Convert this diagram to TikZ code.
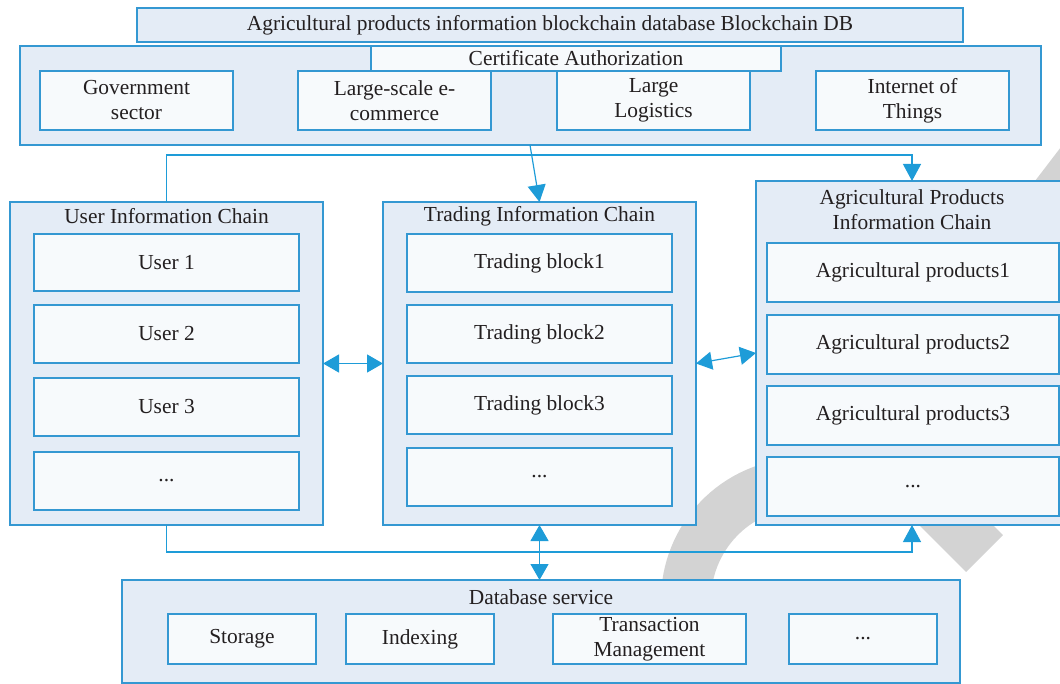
\documentclass[tikz,border=0pt]{standalone}
\usepackage{fontspec}
\setmainfont{Liberation Serif}
\usetikzlibrary{arrows.meta,calc}
\definecolor{bline}{RGB}{52,152,210}
\definecolor{outfill}{RGB}{228,236,246}
\definecolor{infill}{RGB}{247,250,252}
\definecolor{arrc}{RGB}{30,156,216}
\definecolor{txt}{RGB}{35,31,32}
\definecolor{wmgray}{RGB}{211,211,211}
\newcommand\lblfont{\fontsize{10.7}{12.5}\selectfont}
\newcommand\bx[7]{%
  \pgfmathsetmacro\bxw{(#5-#3)*0.5}%
  \pgfmathsetmacro\bxh{(#6-#4)*0.5}%
  \node[#2,minimum width=\bxw pt,minimum height=\bxh pt] (#1) at ({(#3+#5)/2},{(#4+#6)/2}) {#7};}
\begin{document}
\begin{tikzpicture}[x=0.5pt,y=-0.5pt,
  outer/.style={draw=bline,fill=outfill,line width=0.7pt,inner sep=0pt,outer sep=0pt,text=txt,font=\lblfont},
  inner/.style={draw=bline,fill=infill,line width=0.7pt,inner sep=0pt,outer sep=0pt,text=txt,align=center,font=\lblfont},
  lab/.style={text=txt,align=center,font=\lblfont,inner sep=0pt},
  conn/.style={draw=arrc,line width=0.6pt},
  arr/.style={conn,-{Triangle[width=9pt,length=8.5pt]}},
  darr/.style={conn,{Triangle[width=9pt,length=8pt]}-{Triangle[width=9pt,length=8pt]}},
  wm/.style={draw=wmgray}]
\useasboundingbox (0,0) rectangle (1060,684);
% watermark
\draw[wm,line width=25pt] (803,600) ++(195:58.5pt) arc[start angle=195,end angle=70,radius=58.5pt];
\draw[wm,line width=26pt] (880,449) -- (984.5,553.5);
\fill[wmgray] (1035,181) -- (1061,147) -- (1061,181) -- cycle;
% top
\bx{title}{outer}{137}{8}{963}{42}{Agricultural products information blockchain database Blockchain DB}
\bx{cert}{outer}{20}{46}{1041}{145}{}
\bx{certlab}{inner}{371}{46}{781}{71}{Certificate Authorization}
\bx{gov}{inner}{40}{71}{233}{130}{Government\\sector}
\bx{ecom}{inner}{298}{71}{491}{130}{Large-scale e-\\commerce}
\bx{logi}{inner}{557}{71}{750}{130}{Large\\Logistics}
\bx{iot}{inner}{816}{71}{1009}{130}{Internet of\\Things}
% user chain
\bx{uic}{outer}{10}{202}{323}{525}{}
\node[lab] (uict) at (166.5,216) {User Information Chain};
\bx{u1}{inner}{34}{234}{299}{291}{User 1}
\bx{u2}{inner}{34}{305}{299}{363}{User 2}
\bx{u3}{inner}{34}{378}{299}{436}{User 3}
\bx{u4}{inner}{34}{452}{299}{510}{...}
% trading chain
\bx{tic}{outer}{383}{202}{696}{525}{}
\node[lab] (tict) at (539.5,216) {Trading Information Chain};
\bx{t1}{inner}{407}{234}{672}{292}{Trading block1}
\bx{t2}{inner}{407}{305}{672}{363}{Trading block2}
\bx{t3}{inner}{407}{376}{672}{434}{Trading block3}
\bx{t4}{inner}{407}{448}{672}{506}{...}
% agricultural chain
\bx{apic}{outer}{756}{181}{1070}{525}{}
\node[lab] (apict) at (912,210) {Agricultural Products\\Information Chain};
\bx{a1}{inner}{767}{243}{1059}{302}{Agricultural products1}
\bx{a2}{inner}{767}{315}{1059}{374}{Agricultural products2}
\bx{a3}{inner}{767}{386}{1059}{445}{Agricultural products3}
\bx{a4}{inner}{767}{457}{1059}{516}{...}
% database
\bx{dbs}{outer}{122}{580}{960}{683}{}
\node[lab] (dbst) at (541,597) {Database service};
\bx{s1}{inner}{168}{614}{316}{664}{Storage}
\bx{s2}{inner}{346}{614}{494}{664}{Indexing}
\bx{s3}{inner}{553}{614}{746}{664}{Transaction\\Management}
\bx{s4}{inner}{789}{614}{937}{664}{...}
% connectors
\coordinate (ca) at (530,145);
\draw[arr] (ca) -- (tic.north);
\coordinate (tr) at (912,155);
\draw[arr] (uic.north) |- (tr) -- (tr |- apic.north);
\coordinate (br) at (912,552);
\draw[arr] (uic.south) |- (br) -- (br |- apic.south);
\draw[darr] (uic.east) -- (tic.west);
\draw[darr] (tic.east) -- (apic.west);
\draw[darr] (tic.south) -- (tic.south |- dbs.north);
\end{tikzpicture}
\end{document}
